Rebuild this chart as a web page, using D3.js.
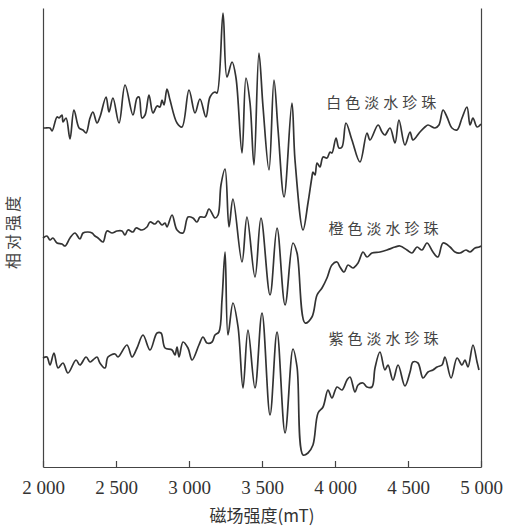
<!DOCTYPE html>
<html>
<head>
<meta charset="utf-8">
<script src="https://cdn.jsdelivr.net/npm/d3@7"></script>
<style>
  body { margin: 0; background: #fff; }
</style>
</head>
<body>
<div id="chart"></div>
<script>
// Chart frame
const margin = { top: 8, right: 24, bottom: 61, left: 43 },
      width = 505 - margin.left - margin.right,
      height = 528 - margin.top - margin.bottom;

// Data: magnetic field (mT) and relative intensity
const fieldWhite = [2000, 2014, 2048, 2062, 2096, 2110, 2130, 2137, 2158, 2185, 2212, 2247, 2274, 2295, 2322, 2342, 2370, 2390, 2432, 2452, 2479, 2521, 2562, 2616, 2644, 2658, 2678, 2699, 2726, 2753, 2781, 2801, 2815, 2829, 2849, 2870, 2918, 2952, 3000, 3041, 3075, 3116, 3144, 3178, 3192, 3233, 3260, 3295, 3322, 3363, 3390, 3418, 3445, 3479, 3507, 3548, 3582, 3610, 3651, 3705, 3726, 3781, 3815, 3842, 3849, 3863, 3877, 3897, 3918, 3945, 3966, 3979, 4007, 4027, 4048, 4075, 4116, 4171, 4219, 4240, 4295, 4322, 4342, 4377, 4411, 4438, 4479, 4514, 4534, 4582, 4616, 4637, 4685, 4712, 4740, 4767, 4801, 4836, 4870, 4904, 4925, 4945, 4973, 5000];
const white = [339, 339, 339, 336, 350, 349, 352, 345, 349, 328, 357, 339, 337, 334, 349, 355, 344, 350, 370, 355, 369, 344, 382, 352, 369, 370, 349, 352, 372, 354, 361, 360, 367, 362, 378, 367, 344, 340, 377, 354, 368, 350, 370, 375, 374, 454, 390, 405, 389, 314, 389, 364, 302, 414, 360, 297, 387, 337, 270, 364, 307, 237, 264, 290, 295, 292, 304, 300, 310, 309, 315, 314, 329, 319, 320, 344, 327, 305, 334, 327, 342, 335, 332, 339, 324, 347, 322, 335, 327, 335, 340, 342, 339, 342, 357, 350, 339, 337, 349, 360, 342, 349, 340, 343];

const fieldOrange = [2000, 2027, 2048, 2068, 2096, 2130, 2151, 2185, 2219, 2253, 2274, 2308, 2336, 2356, 2377, 2411, 2438, 2473, 2507, 2541, 2562, 2582, 2616, 2637, 2678, 2712, 2733, 2767, 2788, 2815, 2836, 2849, 2884, 2918, 2959, 2993, 3027, 3055, 3075, 3110, 3137, 3178, 3199, 3219, 3247, 3274, 3301, 3363, 3397, 3452, 3493, 3555, 3603, 3658, 3712, 3740, 3795, 3842, 3877, 3911, 3945, 3979, 4014, 4034, 4062, 4089, 4123, 4158, 4192, 4219, 4253, 4308, 4356, 4411, 4445, 4493, 4527, 4562, 4596, 4630, 4671, 4705, 4740, 4788, 4822, 4856, 4897, 4925, 4959, 4986, 5000];
const orange = [229, 231, 227, 229, 224, 223, 221, 229, 234, 228, 234, 235, 234, 231, 229, 225, 236, 234, 236, 236, 232, 237, 235, 239, 237, 240, 245, 243, 246, 242, 244, 240, 252, 237, 234, 250, 249, 245, 250, 250, 258, 249, 252, 282, 298, 240, 268, 205, 250, 190, 249, 172, 239, 162, 224, 214, 144, 150, 172, 179, 189, 202, 205, 200, 195, 202, 199, 204, 215, 210, 214, 215, 217, 220, 221, 217, 214, 220, 217, 224, 215, 210, 224, 220, 215, 214, 217, 215, 219, 220, 221];

const fieldPurple = [2000, 2027, 2048, 2075, 2103, 2137, 2171, 2226, 2253, 2295, 2322, 2342, 2370, 2390, 2425, 2445, 2493, 2514, 2575, 2610, 2644, 2685, 2733, 2781, 2808, 2836, 2884, 2904, 2918, 2932, 2959, 2993, 3021, 3068, 3096, 3123, 3158, 3178, 3205, 3226, 3247, 3267, 3301, 3336, 3370, 3404, 3452, 3500, 3555, 3603, 3658, 3712, 3740, 3781, 3815, 3849, 3884, 3918, 3952, 3979, 4014, 4048, 4082, 4103, 4137, 4158, 4192, 4219, 4253, 4274, 4308, 4342, 4363, 4397, 4432, 4479, 4514, 4534, 4568, 4603, 4637, 4671, 4699, 4733, 4753, 4795, 4836, 4870, 4890, 4911, 4945, 4973, 4986];
const purple = [109, 110, 102, 114, 99, 104, 94, 107, 102, 110, 105, 107, 110, 104, 99, 110, 113, 110, 122, 110, 119, 132, 117, 134, 134, 119, 117, 112, 120, 110, 125, 119, 107, 122, 130, 124, 125, 132, 135, 167, 215, 132, 164, 140, 79, 137, 79, 154, 52, 135, 34, 118, 100, 12, 14, 22, 54, 60, 77, 69, 80, 77, 87, 90, 75, 82, 84, 80, 80, 99, 115, 97, 102, 87, 102, 81, 95, 105, 104, 89, 95, 97, 100, 102, 110, 89, 109, 102, 107, 100, 122, 105, 97];

const seriesNames = ["白色淡水珍珠", "橙色淡水珍珠", "紫色淡水珍珠"];
const xTicks = [2000, 2500, 3000, 3500, 4000, 4500, 5000];

const svg = d3.select("#chart")
    .append("svg")
    .attr("width", width + margin.left + margin.right)
    .attr("height", height + margin.top + margin.bottom)
    .append("g")
    .attr("transform", `translate(${margin.left},${margin.top})`);

// Scales
const x = d3.scaleLinear().domain([2000, 5000]).range([0, width]);
const y = d3.scaleLinear().domain([0, 459]).range([height, 0]);

// X axis with inward ticks
const xAxis = svg.append("g")
    .attr("transform", `translate(0,${height})`)
    .call(d3.axisBottom(x)
        .tickValues(xTicks)
        .tickSizeInner(-6)
        .tickSizeOuter(0)
        .tickPadding(14)
        .tickFormat(d => d3.format(",")(d).replace(",", " ")));

xAxis.select(".domain").attr("stroke", "#444").attr("stroke-width", 1.2);
xAxis.selectAll(".tick line").attr("stroke", "#444").attr("stroke-width", 1.2);
xAxis.selectAll(".tick text")
    .attr("fill", "#333")
    .style("font-family", "'Liberation Serif', 'DejaVu Serif', serif")
    .style("font-size", "19px");

// Left and right frame lines
svg.append("g")
    .call(d3.axisLeft(y).tickValues([]).tickSizeOuter(0))
    .select(".domain").attr("stroke", "#444").attr("stroke-width", 1.2);
svg.append("g")
    .attr("transform", `translate(${width},0)`)
    .call(d3.axisRight(y).tickValues([]).tickSizeOuter(0))
    .select(".domain").attr("stroke", "#444").attr("stroke-width", 1.2);

// Spectra
const line = d3.line()
    .x(d => x(d[0]))
    .y(d => y(d[1]))
    .curve(d3.curveCatmullRom.alpha(0.5));

const series = [
    d3.zip(fieldWhite, white),
    d3.zip(fieldOrange, orange),
    d3.zip(fieldPurple, purple)
];

svg.selectAll(".spectrum")
    .data(series)
    .join("path")
    .attr("class", "spectrum")
    .attr("d", line)
    .attr("fill", "none")
    .attr("stroke", "#333")
    .attr("stroke-width", 1.7)
    .attr("stroke-linejoin", "round");

// Series labels
const labelPos = [[3940, 359], [3955, 233], [3955, 123]];
svg.selectAll(".series-label")
    .data(seriesNames)
    .join("text")
    .attr("class", "series-label")
    .attr("x", (d, i) => x(labelPos[i][0]))
    .attr("y", (d, i) => y(labelPos[i][1]))
    .attr("fill", "#444")
    .style("font-family", "'Noto Sans CJK SC', sans-serif")
    .style("font-size", "15px")
    .style("letter-spacing", "4px")
    .text(d => d);

// Axis titles
svg.append("text")
    .attr("x", width / 2)
    .attr("y", height + 55)
    .attr("text-anchor", "middle")
    .attr("fill", "#333")
    .style("font-family", "'Noto Sans CJK SC', sans-serif")
    .style("font-size", "17px")
    .text("磁场强度(mT)");

svg.append("text")
    .attr("transform", `translate(${-24},${y(236)}) rotate(-90)`)
    .attr("text-anchor", "middle")
    .attr("fill", "#444")
    .style("font-family", "'Noto Sans CJK SC', sans-serif")
    .style("font-size", "16px")
    .style("letter-spacing", "3px")
    .text("相对强度");
</script>
</body>
</html>
